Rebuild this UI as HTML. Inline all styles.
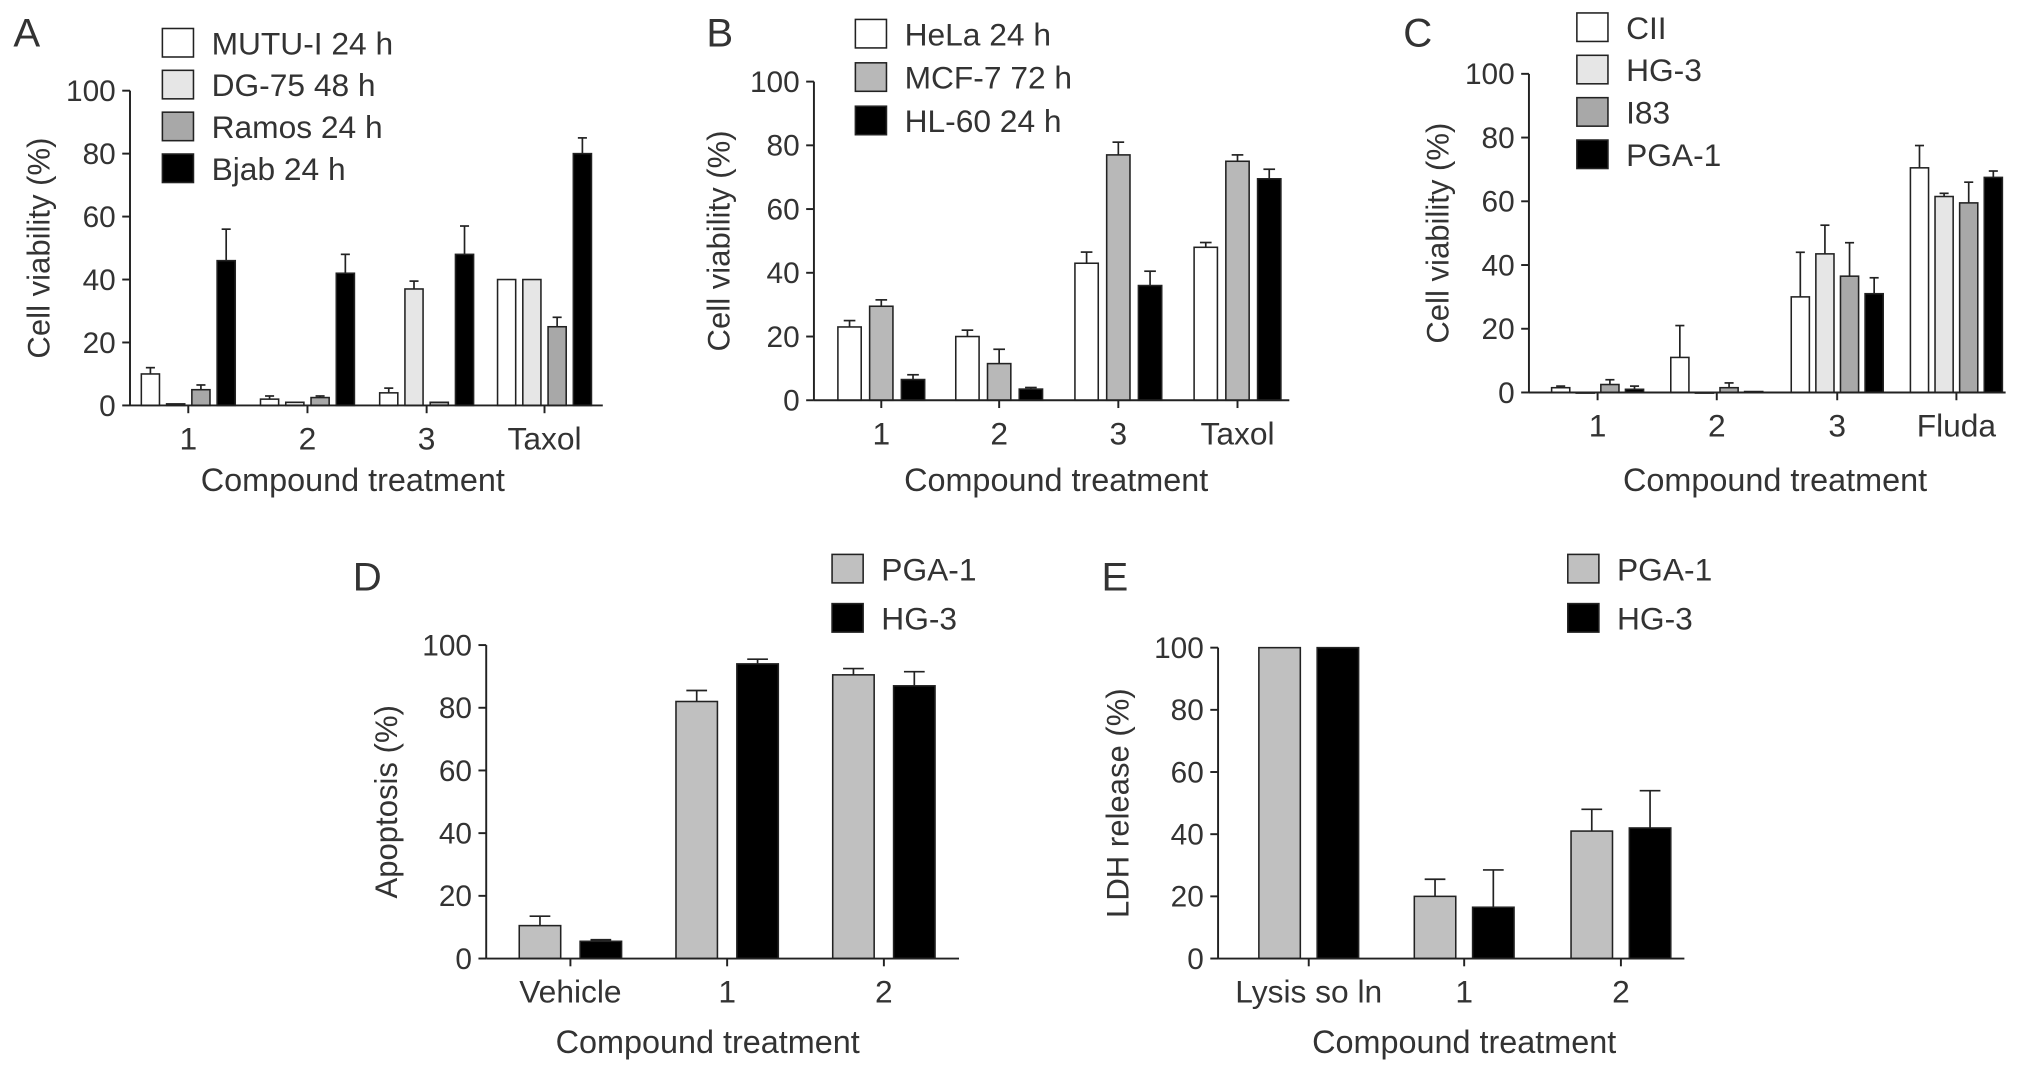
<!DOCTYPE html>
<html><head><meta charset="utf-8">
<style>
html,body{margin:0;padding:0;background:#fff;}
svg{display:block;}
text{font-family:"Liberation Sans",sans-serif;fill:#333;}
</style></head>
<body>
<svg id="fig" width="2032" height="1079" viewBox="0 0 1568 833" xmlns="http://www.w3.org/2000/svg"></svg>
<script>
// ---- Data ----
const catsA = ["1","2","3","Taxol"];
const seriesNamesA = ["MUTU-I 24 h","DG-75 48 h","Ramos 24 h","Bjab 24 h"];
const valsA_MUTU = [10,2,4,40];
const valsA_DG = [0.5,1,37,40];
const valsA_Ramos = [5,2.5,1,25];
const valsA_Bjab = [46,42,48,80];
const errA_MUTU = [2,1,1.5,0];
const errA_DG = [0,0,2.5,0];
const errA_Ramos = [1.5,0.5,0,3];
const errA_Bjab = [10,6,9,5];

const catsB = ["1","2","3","Taxol"];
const seriesNamesB = ["HeLa 24 h","MCF-7 72 h","HL-60 24 h"];
const valsB_HeLa = [23,20,43,48];
const valsB_MCF = [29.5,11.5,77,75];
const valsB_HL = [6.5,3.5,36,69.5];
const errB_HeLa = [2,2,3.5,1.5];
const errB_MCF = [2,4.5,4,2];
const errB_HL = [1.5,0.5,4.5,3];

const catsC = ["1","2","3","Fluda"];
const seriesNamesC = ["CII","HG-3","I83","PGA-1"];
const valsC_CII = [1.5,11,30,70.5];
const valsC_HG = [0,0,43.5,61.5];
const valsC_I83 = [2.5,1.5,36.5,59.5];
const valsC_PGA = [1,0.3,31,67.5];
const errC_CII = [0.5,10,14,7];
const errC_HG = [0,0,9,1];
const errC_I83 = [1.5,1.5,10.5,6.5];
const errC_PGA = [1,0,5,2];

const catsD = ["Vehicle","1","2"];
const seriesNamesD = ["PGA-1","HG-3"];
const valsD_PGA = [10.5,82,90.5];
const valsD_HG = [5.5,94,87];
const errD_PGA = [3,3.5,2];
const errD_HG = [0.5,1.5,4.5];

const catsE = ["Lysis so ln","1","2"];
const seriesNamesE = ["PGA-1","HG-3"];
const valsE_PGA = [100,20,41];
const valsE_HG = [100,16.5,42];
const errE_PGA = [0,5.5,7];
const errE_HG = [0,12,12];

const yTicks = [0,20,40,60,80,100];

const svg = document.getElementById('fig');
const NS = "http://www.w3.org/2000/svg";
function mk(tag, attrs, parent){
  const e = document.createElementNS(NS, tag);
  for (const k in attrs) e.setAttribute(k, attrs[k]);
  (parent||svg).appendChild(e);
  return e;
}
function txt(s, attrs, parent){ const t = mk('text', attrs, parent); t.textContent = s; return t; }

function drawChart(c){
  const g = mk('g', {});
  
  
  const yScale = v => c.y0 - (c.y0 - c.y100) * v / 100;
  const xScale = (i, s) => c.catX[i] + (s - (c.series.length - 1) / 2) * c.spacing;
  const L = txt(c.letter, {x:c.letterX, y:c.letterY, 'font-size':31, fill:'#222'}, g);
  
  
  c.series.forEach((vals, s) => {
    vals.forEach((v, i) => {
      const cx = xScale(i, s);
      const top = yScale(v);
      const e = c.errs[s][i];
      if (e > 0) {
        const et = yScale(v + e);
        const ln = mk('line', {x1:cx, x2:cx, y1:top, y2:et, stroke:'#222', 'stroke-width':1.3}, g);
        
        
        mk('line', {x1:cx - c.bw*0.25, x2:cx + c.bw*0.25, y1:et, y2:et, stroke:'#222', 'stroke-width':1.3}, g);
      }
      const r = mk('rect', {x:cx - c.bw/2, y:top, width:c.bw, height:Math.max(c.y0 - top, 0.5), fill:c.fills[s], stroke:'#222', 'stroke-width':1.2}, g);
      
      
    });
  });
  const ya = mk('line', {x1:c.ax, x2:c.ax, y1:c.y0, y2:c.y100, stroke:'#222', 'stroke-width':1.5}, g);
  
  
  const xa = mk('line', {x1:c.ax, x2:c.axEnd, y1:c.y0, y2:c.y0, stroke:'#222', 'stroke-width':1.5}, g);
  
  
  yTicks.forEach(t => {
    const y = yScale(t);
    mk('line', {x1:c.ax - 6, x2:c.ax, y1:y, y2:y, stroke:'#222', 'stroke-width':1.5}, g);
    const tl = txt(String(t), {x:c.ax - 11, y:y + 8, 'font-size':23, 'text-anchor':'end'}, g);
    
    
  });
  c.cats.forEach((cat, i) => {
    mk('line', {x1:c.catX[i], x2:c.catX[i], y1:c.y0, y2:c.y0 + 6, stroke:'#222', 'stroke-width':1.5}, g);
    const tl = txt(cat, {x:c.catX[i], y:c.y0 + 34, 'font-size':24.5, 'text-anchor':'middle'}, g);
    
    
  });
  const yt = txt(c.yTitle, {x:0, y:0, 'font-size':24, 'text-anchor':'middle', transform:`translate(${c.yTitleX},${(c.y0 + c.y100)/2}) rotate(-90)`}, g);
  
  
  const xt = txt('Compound treatment', {x:c.xTitleX, y:c.xTitleY, 'font-size':25, 'text-anchor':'middle'}, g);
  
  
  c.names.forEach((n, s) => {
    const ly = c.legY + s * c.legStep;
    const lg = mk('g', {}, g);
    
    
    mk('rect', {x:c.legX, y:ly, width:24, height:22, fill:c.fills[s], stroke:'#222', 'stroke-width':1.2}, lg);
    txt(n, {x:c.legX + 38, y:ly + 20, 'font-size':24.5}, lg);
  });
}

const W = '#ffffff', LG = '#e6e6e6', G = '#a8a8a8', K = '#000000', MG = '#c0c0c0';

drawChart({name:'chart-a', letter:'A', letterX:10, letterY:36, cats:catsA, names:seriesNamesA,
  series:[valsA_MUTU,valsA_DG,valsA_Ramos,valsA_Bjab], errs:[errA_MUTU,errA_DG,errA_Ramos,errA_Bjab],
  fills:[W,LG,G,K], ax:100, axEnd:465, y0:313, y100:70, catX:[145,237,329,420], spacing:19.5, bw:14,
  yTitle:'Cell viability (%)', yTitleX:38, xTitleX:272, xTitleY:379, legX:125, legY:22, legStep:32.3});

drawChart({name:'chart-b', letter:'B', letterX:545, letterY:36, cats:catsB, names:seriesNamesB,
  series:[valsB_HeLa,valsB_MCF,valsB_HL], errs:[errB_HeLa,errB_MCF,errB_HL],
  fills:[W,'#b8b8b8',K], ax:628, axEnd:995, y0:309, y100:63, catX:[680,771,863,955], spacing:24.5, bw:18,
  yTitle:'Cell viability (%)', yTitleX:563, xTitleX:815, xTitleY:379, legX:660, legY:15, legStep:33.5});

drawChart({name:'chart-c', letter:'C', letterX:1083, letterY:36, cats:catsC, names:seriesNamesC,
  series:[valsC_CII,valsC_HG,valsC_I83,valsC_PGA], errs:[errC_CII,errC_HG,errC_I83,errC_PGA],
  fills:[W,LG,G,K], ax:1180, axEnd:1548, y0:303, y100:57, catX:[1233,1325,1418,1510], spacing:19, bw:14,
  yTitle:'Cell viability (%)', yTitleX:1118, xTitleX:1370, xTitleY:379, legX:1217, legY:10, legStep:32.7});

drawChart({name:'chart-d', letter:'D', letterX:272, letterY:456, cats:catsD, names:seriesNamesD,
  series:[valsD_PGA,valsD_HG], errs:[errD_PGA,errD_HG],
  fills:[MG,K], ax:375, axEnd:740, y0:740, y100:498, catX:[440,561,682], spacing:47, bw:32,
  yTitle:'Apoptosis (%)', yTitleX:306, xTitleX:546, xTitleY:813, legX:642, legY:428, legStep:38});

drawChart({name:'chart-e', letter:'E', letterX:850, letterY:456, cats:catsE, names:seriesNamesE,
  series:[valsE_PGA,valsE_HG], errs:[errE_PGA,errE_HG],
  fills:[MG,K], ax:940, axEnd:1300, y0:740, y100:500, catX:[1010,1130,1251], spacing:45, bw:32,
  yTitle:'LDH release (%)', yTitleX:871, xTitleX:1130, xTitleY:813, legX:1210, legY:428, legStep:38});
</script>
</body></html>
